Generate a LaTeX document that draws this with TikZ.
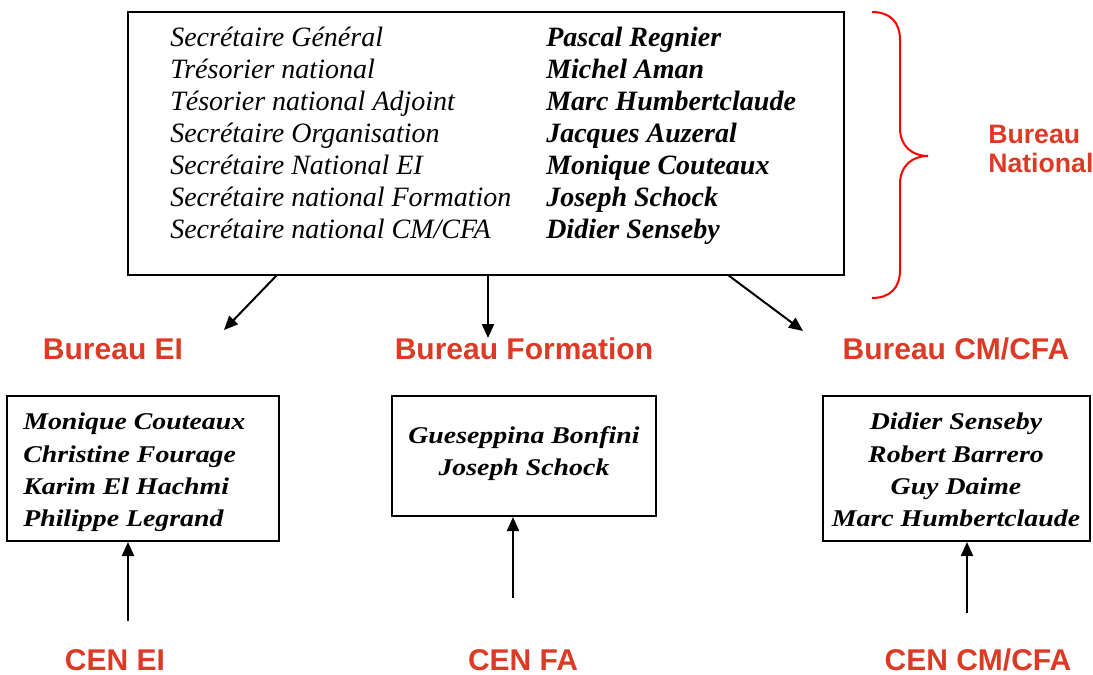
\documentclass[tikz,border=0pt]{standalone}
\usepackage{fontspec}
\setmainfont{Liberation Serif}
\newfontfamily\namefont{Liberation Serif}[FakeStretch=1.16]
\newfontfamily\labfont{Liberation Sans}
\usetikzlibrary{arrows.meta}
\definecolor{lab}{RGB}{221,58,38}
\definecolor{brc}{RGB}{255,0,0}
\tikzset{
  box/.style={draw=black, line width=1.5pt, inner sep=0pt, fill=none},
  role/.style={anchor=base west, inner sep=0pt, font=\fontsize{21pt}{21pt}\selectfont\itshape},
  who/.style={anchor=base west, inner sep=0pt, font=\fontsize{21pt}{21pt}\selectfont\bfseries\itshape},
  memb/.style={inner sep=0pt, font=\fontsize{18pt}{18pt}\namefont\bfseries\itshape},
  redlab/.style={anchor=base, inner sep=0pt, text=lab, font=\fontsize{22.5pt}{22.5pt}\labfont\bfseries},
  natlab/.style={anchor=base west, inner sep=0pt, text=lab, font=\fontsize{20pt}{20pt}\labfont\bfseries},
  arr/.style={line width=1.5pt, -{Triangle[length=10.5pt,width=9pt]}},
}
\begin{document}
\begin{tikzpicture}[x=0.75pt,y=-0.75pt]
\useasboundingbox (0,0) rectangle (1093,675);
% main box
\node[box, minimum width=537pt, minimum height=197.25pt] (main) at (486,143.5) {};
\node[role] (r1) at (170,46) {Secrétaire Général};
\node[role] (r2) at (170,78) {Trésorier national};
\node[role] (r3) at (170,110) {Tésorier national Adjoint};
\node[role] (r4) at (170,142) {Secrétaire Organisation};
\node[role] (r5) at (170,174) {Secrétaire National EI};
\node[role] (r6) at (170,206) {Secrétaire national Formation};
\node[role] (r7) at (170,238) {Secrétaire national CM/CFA};
\node[who] (w1) at (546,46) {Pascal Regnier};
\node[who] (w2) at (546,78) {Michel Aman};
\node[who] (w3) at (546,110) {Marc Humbertclaude};
\node[who] (w4) at (546,142) {Jacques Auzeral};
\node[who] (w5) at (546,174) {Monique Couteaux};
\node[who] (w6) at (546,206) {Joseph Schock};
\node[who] (w7) at (546,238) {Didier Senseby};
% brace
\draw[brc, line width=1.5pt] (872,12) .. controls (890,12) and (900,22) .. (900,40) -- (900,128)
  .. controls (900,146) and (912,156) .. (928,156)
  .. controls (912,156) and (900,166) .. (900,184) -- (900,270)
  .. controls (900,288) and (890,298) .. (872,298);
\node[natlab] (bn1) at (988,143) {Bureau};
\node[natlab] (bn2) at (988,172) {National};
% bureau labels
\node[redlab] (bei) at (113,359) {Bureau EI};
\node[redlab] (bfo) at (524,359) {Bureau Formation};
\node[redlab] (bcm) at (956,359) {Bureau CM/CFA};
% arrows from main box
\coordinate (s1) at (277,275);
\coordinate (s2) at (488,275);
\coordinate (s3) at (728,275);
\coordinate (e1) at (224,330);
\coordinate (e2) at (488,338);
\coordinate (e3) at (803,331);
\draw[arr] (s1) -- (e1);
\draw[arr] (s2) -- (e2);
\draw[arr] (s3) -- (e3);
% lower boxes
\node[box, minimum width=204pt, minimum height=108.75pt] (ei) at (143,468.5) {};
\node[box, minimum width=198pt, minimum height=90pt] (fo) at (524,456) {};
\node[box, minimum width=200.25pt, minimum height=108.75pt] (cm) at (956.5,468.5) {};
\node[memb, anchor=base west] (m1) at (23,429) {Monique Couteaux};
\node[memb, anchor=base west] (m2) at (23,462) {Christine Fourage};
\node[memb, anchor=base west] (m3) at (23,494) {Karim El Hachmi};
\node[memb, anchor=base west] (m4) at (23,526) {Philippe Legrand};
\node[memb, anchor=base] (f1) at (524,443) {Gueseppina Bonfini};
\node[memb, anchor=base] (f2) at (524,475) {Joseph Schock};
\node[memb, anchor=base] (c1) at (956,429) {Didier Senseby};
\node[memb, anchor=base] (c2) at (956,462) {Robert Barrero};
\node[memb, anchor=base] (c3) at (956,494) {Guy Daime};
\node[memb, anchor=base] (c4) at (956,526) {Marc Humbertclaude};
% up arrows
\coordinate (u1) at (128,621);
\coordinate (u2) at (513,598);
\coordinate (u3) at (967,613);
\draw[arr] (u1) -- (u1 |- ei.south);
\draw[arr] (u2) -- (u2 |- fo.south);
\draw[arr] (u3) -- (u3 |- cm.south);
% CEN labels
\node[redlab] (cei) at (115,670) {CEN EI};
\node[redlab] (cfa) at (523,670) {CEN FA};
\node[redlab] (ccm) at (978,670) {CEN CM/CFA};
\end{tikzpicture}
\end{document}
